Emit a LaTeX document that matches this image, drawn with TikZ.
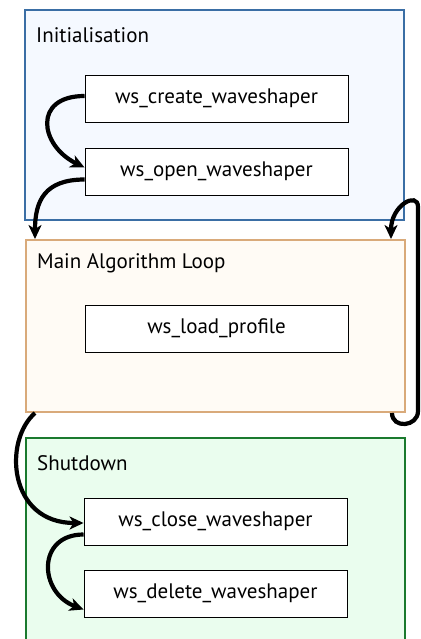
\documentclass[tikz,border=0pt]{standalone}
\usepackage{fontspec}
\setmainfont{PT Sans}
\usetikzlibrary{arrows.meta}
\definecolor{initline}{RGB}{58,110,165}
\definecolor{initfill}{RGB}{245,249,255}
\definecolor{mainline}{RGB}{217,170,122}
\definecolor{mainfill}{RGB}{255,251,245}
\definecolor{shutline}{RGB}{26,122,46}
\definecolor{shutfill}{RGB}{234,253,238}
\begin{document}
\begin{tikzpicture}[x=1pt,y=-1pt,
  group/.style={draw, line width=2pt, inner sep=0pt, anchor=north west},
  func/.style={draw, fill=white, line width=0.9pt, minimum width=263pt, minimum height=47pt,
    inner sep=0pt, font=\fontsize{21}{24}\selectfont},
  grouplabel/.style={anchor=west, inner sep=0pt, font=\fontsize{21}{24}\selectfont},
  flow/.style={line width=4.2pt, -{Stealth[length=14pt,width=13pt,inset=4pt]}}]
\useasboundingbox (0,0) rectangle (420,639);
\clip (0,0) rectangle (420,639);

% phase containers
\node[group, draw=initline, fill=initfill, minimum width=379pt, minimum height=210pt] (init) at (24,9) {};
\node[group, draw=mainline, fill=mainfill, minimum width=379pt, minimum height=172pt] (main) at (25,239) {};
\node[group, draw=shutline, fill=shutfill, minimum width=379pt, minimum height=230pt] (shut) at (25,437) {};

\node[grouplabel] (initlbl) at (36,35) {Initialisation};
\node[grouplabel] (mainlbl) at (37,263) {Main Algorithm Loop};
\node[grouplabel] (shutlbl) at (37,463) {Shutdown};

% API calls
\node[func] (create) at (216.5,98.5) {ws\_create\_waveshaper};
\node[func] (open)   at (216.5,171.5) {ws\_open\_waveshaper};
\node[func] (load)   at (216.5,328.5) {ws\_load\_profile};
\node[func] (close)  at (215.5,521.5) {ws\_close\_waveshaper};
\node[func] (delete) at (215.5,593.5) {ws\_delete\_waveshaper};

% control flow
\coordinate (mainin) at ([xshift=10pt]main.north west);
\coordinate (mainoutl) at ([xshift=10pt]main.south west);
\coordinate (loopout) at ([xshift=-14pt]main.south east);
\coordinate (loopin) at ([xshift=-15pt]main.north east);

\draw[flow] ([yshift=2.5pt]create.west) .. controls +(-52,0) and +(-45,-22) .. ([yshift=4pt]open.west);
\draw[flow] ([yshift=-8pt]open.west) .. controls +(-40,0) and +(0,-38) .. (mainin);
\draw[flow] (loopout) .. controls +(0,16) and +(0,16) .. ++(26,-2) -- ++(0,-204)
  .. controls +(0,-16) and +(0,-34) .. (loopin);
\draw[flow] (mainoutl) .. controls +(-32,28) and +(-75,0) .. ([yshift=-1.5pt]close.west);
\draw[flow] ([yshift=-13pt]close.west) .. controls +(-47,0) and +(-45,-17) .. ([yshift=-16pt]delete.west);
\end{tikzpicture}
\end{document}
